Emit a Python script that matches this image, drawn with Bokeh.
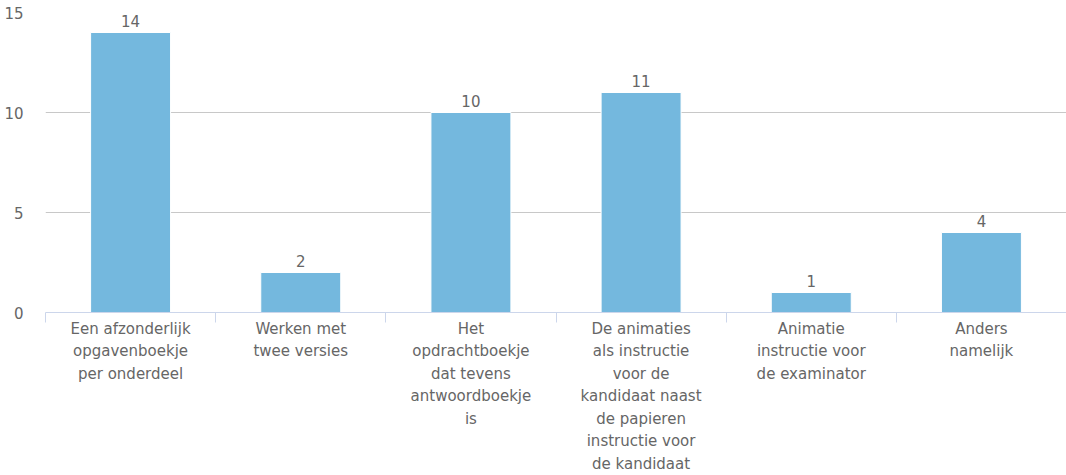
from bokeh.plotting import figure
from bokeh.models import FixedTicker, ColumnDataSource, LabelSet, Range1d
from bokeh.core.properties import value
from bokeh.embed import file_html
from bokeh.resources import INLINE

categories = [
    "Een afzonderlijk\nopgavenboekje\nper onderdeel",
    "Werken met\ntwee versies",
    "Het\nopdrachtboekje\ndat tevens\nantwoordboekje\nis",
    "De animaties\nals instructie\nvoor de\nkandidaat naast\nde papieren\ninstructie voor\nde kandidaat",
    "Animatie\ninstructie voor\nde examinator",
    "Anders\nnamelijk",
]
values = [14, 2, 10, 11, 1, 4]
y_ticks = [0, 5, 10, 15]

FONT = "DejaVu Sans"
GRAY = "#666666"

xs = [i + 0.5 for i in range(len(categories))]
src = ColumnDataSource(dict(x=xs, top=values, lbl=[str(v) for v in values]))

p = figure(width=1066, height=475, output_backend="svg", toolbar_location=None,
           x_range=Range1d(0, len(categories)), y_range=Range1d(0, 15),
           min_border_left=45, min_border_right=0, min_border_top=12, min_border_bottom=150)
p.outline_line_color = None
p.background_fill_color = "white"

p.vbar(x="x", top="top", width=0.47, source=src, fill_color="#74b8de",
       line_color="white", line_width=1)

labels = LabelSet(x="x", y="top", text="lbl", source=src, y_offset=6,
                  text_align="center", text_baseline="bottom",
                  text_font=value(FONT), text_font_size="15px", text_color=GRAY)
p.add_layout(labels)

# x axis
p.xaxis.ticker = FixedTicker(ticks=xs, minor_ticks=list(range(len(categories) + 1)))
p.xaxis.major_label_overrides = {x: c for x, c in zip(xs, categories)}
p.xaxis.major_tick_line_color = None
p.xaxis.major_tick_out = 0
p.xaxis.major_tick_in = 0
p.xaxis.minor_tick_line_color = "#ccd6eb"
p.xaxis.minor_tick_out = 10
p.xaxis.minor_tick_in = 0
p.xaxis.axis_line_color = "#ccd6eb"
p.xaxis.axis_line_width = 1
p.xaxis.major_label_text_font = FONT
p.xaxis.major_label_text_font_size = "15px"
p.xaxis.major_label_text_color = GRAY
p.xaxis.major_label_text_line_height = 1.25
p.xaxis.major_label_standoff = -3
p.xgrid.grid_line_color = None

# y axis
p.yaxis.ticker = FixedTicker(ticks=y_ticks)
p.yaxis.axis_line_color = None
p.yaxis.major_tick_line_color = None
p.yaxis.minor_tick_line_color = None
p.yaxis.major_label_text_font = FONT
p.yaxis.major_label_text_font_size = "15px"
p.yaxis.major_label_text_color = GRAY
p.yaxis.major_label_standoff = 16
p.ygrid.grid_line_color = "#c8c8c8"
p.ygrid.ticker = FixedTicker(ticks=y_ticks)

open("out.html", "w").write(file_html(p, INLINE))
